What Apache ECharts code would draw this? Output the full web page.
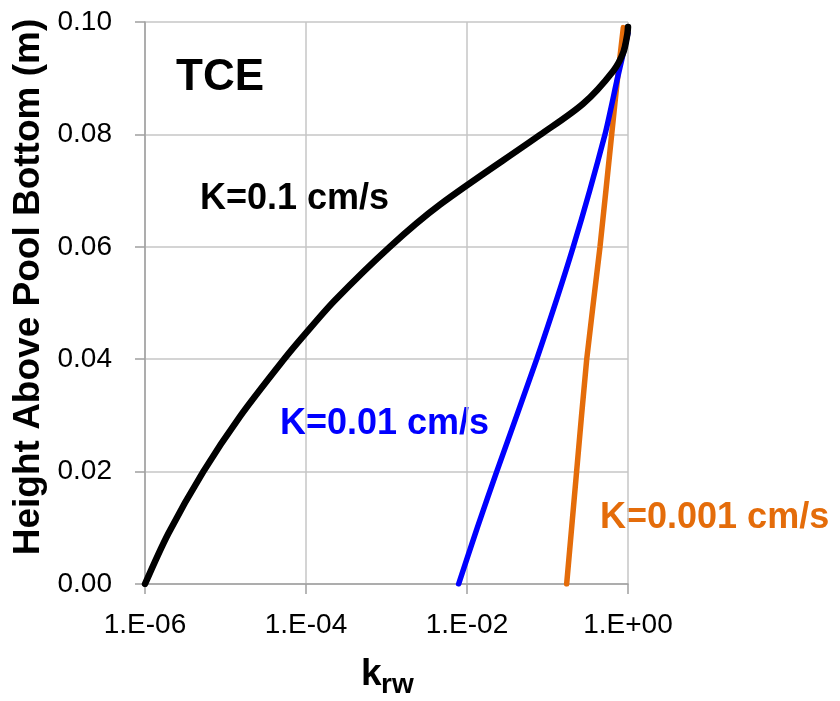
<!DOCTYPE html>
<html>
<head>
<meta charset="utf-8">
<script src="https://cdn.jsdelivr.net/npm/echarts@6/dist/echarts.min.js"></script>
<style>
html,body{margin:0;padding:0;background:#fff;}
#chart{width:840px;height:701px;}
</style>
</head>
<body>
<div id="chart"></div>
<script>
// ---- data ----
const heightK01 = [0, 0.009, 0.02, 0.0298, 0.04, 0.0446, 0.0505, 0.06, 0.0675, 0.0799, 0.0855, 0.0913, 0.0946, 0.0978, 0.0991];
const krwK01 = [1.0e-6, 1.95e-6, 5.3e-6, 1.51e-5, 5.33e-5, 9.9e-5, 2.29e-4, 1.10e-3, 4.62e-3, 0.0807, 0.279, 0.656, 0.875, 0.98, 1.0];

const heightK001 = [0, 0.01, 0.02, 0.04, 0.06, 0.08, 0.09, 0.098];
const krwK001 = [0.00787, 0.0134, 0.0234, 0.0735, 0.209, 0.518, 0.74, 1.0];

const heightK0001 = [0, 0.02, 0.04, 0.06, 0.08, 0.0907, 0.099];
const krwK0001 = [0.173, 0.230, 0.307, 0.449, 0.627, 0.751, 0.875];

const yTicks = [0, 0.02, 0.04, 0.06, 0.08, 0.10];
const xTickExps = [-6, -4, -2, 0];

const seriesNames = ['K=0.1 cm/s', 'K=0.01 cm/s', 'K=0.001 cm/s'];
const titleText = 'TCE';
const yTitle = 'Height Above Pool Bottom (m)';

function pairs(xs, ys){ return xs.map((x,i)=>[x, ys[i]]); }
function fmtExp(v){
  const e = Math.round(Math.log10(v));
  const s = e < 0 ? '-' : '+';
  const a = Math.abs(e);
  return '1.E' + s + (a < 10 ? '0' + a : '' + a);
}

const chart = echarts.init(document.getElementById('chart'), null, {renderer:'canvas'});
const F = '"Liberation Sans", Arial, sans-serif';
const gridColor = '#C6C6C6';
const axisColor = '#A0A0A0';

chart.setOption({
  animation: false,
  backgroundColor: '#ffffff',
  grid: {left: 145, right: 212, top: 22, bottom: 117, containLabel: false},
  xAxis: {
    type: 'log', logBase: 100,
    min: Math.pow(10, xTickExps[0]), max: Math.pow(10, xTickExps[xTickExps.length-1]),
    axisLine: {show: true, lineStyle: {color: axisColor, width: 1.5}},
    axisTick: {show: true, length: 10, lineStyle: {color: axisColor, width: 1.5}},
    splitLine: {show: true, lineStyle: {color: gridColor, width: 1.5}},
    minorTick: {show: false}, minorSplitLine: {show: false},
    axisLabel: {fontFamily: F, fontSize: 28, color: '#000', margin: 27, formatter: fmtExp}
  },
  yAxis: {
    type: 'value', min: yTicks[0], max: yTicks[yTicks.length-1], interval: 0.02,
    axisLine: {show: true, lineStyle: {color: axisColor, width: 1.5}},
    axisTick: {show: true, length: 10, lineStyle: {color: axisColor, width: 1.5}},
    splitLine: {show: true, lineStyle: {color: gridColor, width: 1.5}},
    axisLabel: {fontFamily: F, fontSize: 28, color: '#000', margin: 33, formatter: v => v.toFixed(2)}
  },
  series: [
    {name: seriesNames[0], type: 'line', data: pairs(krwK01, heightK01), smooth: 0.3,
     showSymbol: false, lineStyle: {color: '#000000', width: 6.5, cap: 'round'}, z: 4},
    {name: seriesNames[1], type: 'line', data: pairs(krwK001, heightK001), smooth: 0.2,
     showSymbol: false, lineStyle: {color: '#0000FF', width: 5.5, cap: 'round'}, z: 3},
    {name: seriesNames[2], type: 'line', data: pairs(krwK0001, heightK0001), smooth: 0.2,
     showSymbol: false, lineStyle: {color: '#E46C0A', width: 5.5, cap: 'round'}, z: 2}
  ],
  graphic: [
    {type: 'text', x: 176, y: 77.5, style: {text: titleText, fontFamily: F, fontWeight: 'bold', fontSize: 44, fill: '#000', align: 'left', verticalAlign: 'middle'}},
    {type: 'text', x: 200, y: 199.5, style: {text: seriesNames[0], fontFamily: F, fontWeight: 'bold', fontSize: 36, fill: '#000', align: 'left', verticalAlign: 'middle'}},
    {type: 'text', x: 280, y: 424, style: {text: seriesNames[1], fontFamily: F, fontWeight: 'bold', fontSize: 36, fill: '#0000FF', align: 'left', verticalAlign: 'middle'}},
    {type: 'text', x: 600, y: 518.5, style: {text: seriesNames[2], fontFamily: F, fontWeight: 'bold', fontSize: 36, fill: '#E46C0A', align: 'left', verticalAlign: 'middle'}},
    {type: 'text', x: 29, y: 287, rotation: Math.PI/2, style: {text: yTitle, fontFamily: F, fontWeight: 'bold', fontSize: 37, fill: '#000', align: 'center', verticalAlign: 'middle'}},
    {type: 'text', x: 361, y: 675, style: {text: 'k', fontFamily: F, fontWeight: 'bold', fontSize: 37, fill: '#000', align: 'left', verticalAlign: 'middle'}},
    {type: 'text', x: 381, y: 685, style: {text: 'rw', fontFamily: F, fontWeight: 'bold', fontSize: 28, fill: '#000', align: 'left', verticalAlign: 'middle'}}
  ]
});
</script>
</body>
</html>
